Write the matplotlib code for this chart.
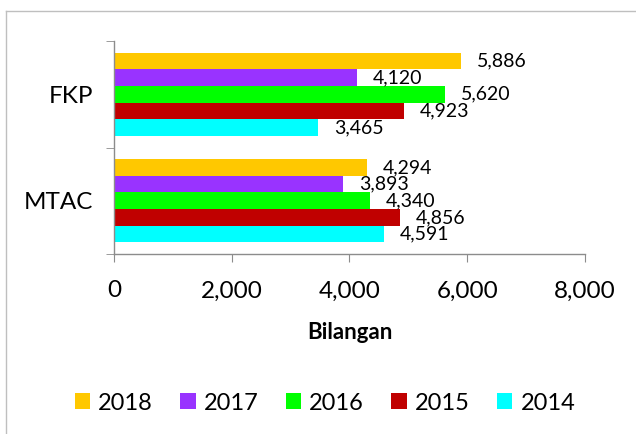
import matplotlib
matplotlib.use("Agg")
import matplotlib.pyplot as plt
from matplotlib.patches import Patch
from matplotlib.lines import Line2D
import numpy as np

plt.rcParams["font.family"] = ["Lato", "DejaVu Sans"]

categories = ["MTAC", "FKP"]
years = ["2018", "2017", "2016", "2015", "2014"]
colors = ["#FFC800", "#9933FF", "#00FF00", "#C00000", "#00FFFF"]
values = {
    "2018": [4294, 5886],
    "2017": [3893, 4120],
    "2016": [4340, 5620],
    "2015": [4856, 4923],
    "2014": [4591, 3465],
}
x_ticks = [0, 2000, 4000, 6000, 8000]
x_label = "Bilangan"

fig = plt.figure(figsize=(6.36, 4.34), dpi=100)
ax = fig.add_axes([0.179, 0.4147, 0.741, 0.4908])

bar_h = 0.156
pos = np.arange(len(categories))
for i, (year, col) in enumerate(zip(years, colors)):
    offset = (2 - i) * bar_h
    bars = ax.barh(pos + offset, values[year], height=bar_h, color=col,
                   edgecolor="none")
    for b, v in zip(bars, values[year]):
        ax.annotate(f"{v:,}", (b.get_width(), b.get_y() + b.get_height() / 2),
                    xytext=(11.5, 0), textcoords="offset points",
                    ha="left", va="center", fontsize=14, color="#000000")

ax.set_xlim(0, 8000)
ax.set_ylim(-0.5, 1.5)
ax.set_xticks(x_ticks)
ax.set_xticklabels([f"{t:,}" for t in x_ticks], fontsize=17.5)
ax.set_yticks(pos)
ax.set_yticklabels(categories, fontsize=17.5)
ax.set_yticks([-0.5, 0.5, 1.5], minor=True)
ax.tick_params(axis="y", which="major", length=0, pad=15)
ax.tick_params(axis="y", which="minor", length=6, color="#8C8C8C", direction="out")
ax.tick_params(axis="x", length=6, color="#8C8C8C", direction="out", pad=13)
ax.set_xlabel(x_label, fontsize=16, fontweight="bold", labelpad=15)

for side in ["top", "right"]:
    ax.spines[side].set_visible(False)
for side in ["left", "bottom"]:
    ax.spines[side].set_color("#8C8C8C")
    ax.spines[side].set_linewidth(1.0)

# outer chart frame (partly cropped in the reference)
fig.add_artist(Line2D([6 / 636, 6 / 636], [0, 1 - 11 / 434], color="#BFBFBF", lw=1))
fig.add_artist(Line2D([6 / 636, 1], [1 - 11 / 434, 1 - 11 / 434], color="#BFBFBF", lw=1))

handles = [Patch(facecolor=c, edgecolor="none", label=y) for y, c in zip(years, colors)]
fig.legend(handles=handles, loc="center", bbox_to_anchor=(325 / 636, 1 - 403 / 434),
           ncol=5, frameon=False, fontsize=17, handlelength=0.65, handleheight=0.65,
           handletextpad=0.35, columnspacing=1.15)

fig.savefig("out.png", dpi=100)
